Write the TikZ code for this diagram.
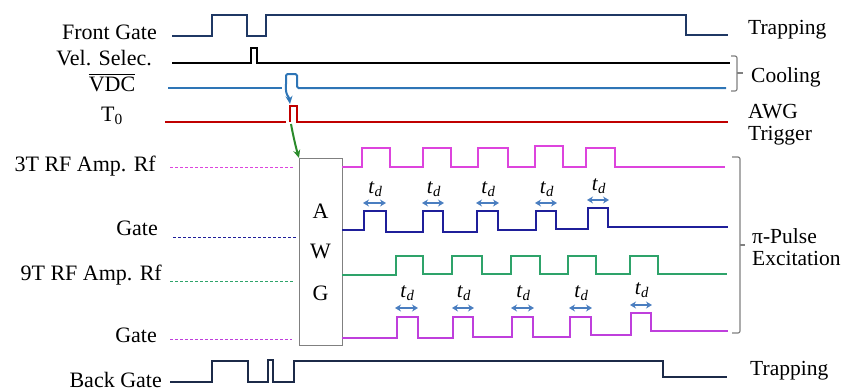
\documentclass[tikz,border=0pt]{standalone}
\usepackage{fontspec}
\setmainfont{Liberation Serif}
\usetikzlibrary{arrows.meta}
\definecolor{cfront}{HTML}{1F3864}
\definecolor{cvdc}{HTML}{2E75B6}
\definecolor{ct0}{HTML}{C00000}
\definecolor{cmag}{HTML}{DD44DD}
\definecolor{cgate}{HTML}{1F1F9A}
\definecolor{cgreen}{HTML}{2EA36A}
\definecolor{cpurp}{HTML}{BF3FDC}
\definecolor{cback}{HTML}{1C2A48}
\definecolor{ctd}{HTML}{4A7EC0}
\definecolor{carrg}{HTML}{2A8A2A}
\definecolor{cbrk}{HTML}{808080}
\begin{document}
\begin{tikzpicture}[x=1pt,y=-1pt,
  lbl/.style={font=\fontsize{22}{24}\selectfont, inner sep=0pt},
  rlbl/.style={font=\fontsize{21.5}{24}\selectfont, inner sep=0pt, anchor=base west},
  wave/.style={line width=2pt},
  guide/.style={line width=1pt, dash pattern=on 3pt off 2pt},
  tdarrow/.style={ctd, line width=2pt, {Stealth[length=6pt,width=7pt]}-{Stealth[length=6pt,width=7pt]}},
  tdlbl/.style={font=\fontsize{21}{24}\selectfont, inner sep=0pt, anchor=base},
  brk/.style={cbrk, line width=1.2pt, rounded corners=2pt}]
\useasboundingbox (0,0) rectangle (844,391);

% left labels
\node[lbl, anchor=base east] (lfg) at (157,39) {Front Gate};
\node[lbl, anchor=base east] (lvs) at (152,65) {Vel. Selec.};
\node[lbl, anchor=base] (lvdc) at (112,91) {VDC};
\draw[line width=0.6pt] ([yshift=2pt]lvdc.north west) -- ([yshift=2pt]lvdc.north east);
\node[lbl, anchor=base] (lt0) at (112,121) {T\textsubscript{0}};
\node[lbl, anchor=base east] (l3t) at (156,171) {3T RF Amp. Rf};
\node[lbl, anchor=base east] (lg1) at (158,235) {Gate};
\node[lbl, anchor=base east] (l9t) at (162,280) {9T RF Amp. Rf};
\node[lbl, anchor=base east] (lg2) at (157,342) {Gate};
\node[lbl, anchor=base east] (lbg) at (162,387) {Back Gate};

% right labels
\node[rlbl] (rtr1) at (748,34) {Trapping};
\node[rlbl] (rcool) at (751,82) {Cooling};
\node[rlbl] (rawg) at (748,118) {AWG};
\node[rlbl] (rtrig) at (748,140) {Trigger};
\node[rlbl] (rpi) at (752,243) {π-Pulse};
\node[rlbl] (rexc) at (752,265) {Excitation};
\node[rlbl] (rtr2) at (750,375) {Trapping};

% brackets
\draw[brk] (731,56) -- (737,56) -- (737,91) -- (731,91);
\draw[cbrk, line width=1.2pt] (737,73) -- (743,73);
\draw[brk] (732,157) -- (740,157) -- (740,333) -- (732,333);
\draw[cbrk, line width=1.2pt] (740,245) -- (745,245);

% dashed guides
\draw[guide, cmag] (170,167) -- (293,167);
\draw[guide, cgate] (173,237) -- (297,237);
\draw[guide, cgreen] (170,281) -- (293,281);
\draw[guide, cpurp] (170,339) -- (292,339);

% AWG box
\node[draw=cbrk, fill=white, line width=0.8pt, minimum width=43pt, minimum height=187pt, inner sep=0pt, anchor=north west] (awg) at (299,158) {};
\node[lbl, anchor=base] (awgA) at (320.5,218) {A};
\node[lbl, anchor=base] (awgW) at (320.5,258) {W};
\node[lbl, anchor=base] (awgG) at (320.5,300) {G};

% Front gate
\draw[wave, cfront] (172,36) -- (212,36) -- (212,15) -- (247,15) -- (247,36) -- (266,36) -- (266,15) -- (686,15) -- (686,35) -- (728,35);
% Vel. Selec.
\draw[wave, black] (172,63) -- (251,63) -- (251,48) -- (257,48) -- (257,63) -- (730,63);
% VDC
\draw[wave, cvdc] (168,88) -- (282,88);
\draw[wave, cvdc, rounded corners=1.5pt] (286,84) -- (286,74) -- (297,74) -- (297,88) -- (726,88);
% T0
\draw[wave, ct0] (165,122) -- (286,122);
\draw[wave, ct0] (290,122) -- (290,106) -- (297,106) -- (297,122) -- (728,122);

% trigger arrows
\coordinate (vdcp) at (286,84);
\coordinate (t0p) at (290,104);
\coordinate (t0b) at (291,124);
\draw[cvdc, line width=2pt, -{Stealth[length=8pt,width=7pt]}] (vdcp) .. controls (285,96) and (289,96) .. (t0p);
\draw[carrg, line width=2pt, -{Stealth[length=8pt,width=7pt]}] (t0b) .. controls (293,135) and (296,148) .. (awg.north west);

% 3T RF Amp
\draw[wave, cmag] (342,167) -- (362,167) -- (362,148) -- (390,148) -- (390,167) -- (423,167) -- (423,148) -- (451,148) -- (451,167) -- (478,167) -- (478,148) -- (508,148) -- (508,167) -- (535,167) -- (535,146) -- (563,146) -- (563,167) -- (586,167) -- (586,148) -- (615,148) -- (615,167) -- (725,167);
% Gate 1
\draw[wave, cgate] (342,230) -- (364,230) -- (364,211) -- (386,211) -- (386,232) -- (423,232) -- (423,211) -- (443,211) -- (443,232) -- (477,232) -- (477,211) -- (498,211) -- (498,230) -- (536,230) -- (536,211) -- (556,211) -- (556,229) -- (588,229) -- (588,208) -- (608,208) -- (608,227) -- (728,227);
% 9T RF Amp
\draw[wave, cgreen] (342,275) -- (396,275) -- (396,256) -- (423,256) -- (423,274) -- (452,274) -- (452,256) -- (482,256) -- (482,274) -- (511,274) -- (511,256) -- (540,256) -- (540,274) -- (568,274) -- (568,256) -- (596,256) -- (596,274) -- (630,274) -- (630,256) -- (658,256) -- (658,274) -- (727,274);
% Gate 2
\draw[wave, cpurp] (342,338) -- (397,338) -- (397,317) -- (418,317) -- (418,338) -- (453,338) -- (453,317) -- (473,317) -- (473,337) -- (512,337) -- (512,317) -- (533,317) -- (533,337) -- (570,337) -- (570,317) -- (591,317) -- (591,335) -- (631,335) -- (631,313) -- (651,313) -- (651,331) -- (728,331);
% Back gate
\draw[wave, cback] (170,382) -- (212,382) -- (212,361) -- (248,361) -- (248,382) -- (268,382) -- (268,360) -- (273,360) -- (273,382) -- (294,382) -- (294,361) -- (663,361) -- (663,377) -- (727,377);

% t_d markers, gate 1
\foreach \i/\a/\b/\y in {1/363/386/203, 2/422/444/203, 3/476/499/203, 4/535/557/203, 5/587/609/200}{
  \coordinate (ga\i) at (\a,\y);
  \coordinate (gb\i) at (\b,\y);
  \draw[tdarrow] (ga\i) -- (gb\i);
  \node[tdlbl] (tdA\i) at ({(\a+\b)/2+1},{\y-10}) {\textit{t}\textsubscript{\textit{d}}};
}
% t_d markers, gate 2
\foreach \i/\a/\b/\y in {1/395/418/308, 2/452/474/308, 3/511/534/308, 4/569/592/308, 5/630/652/305}{
  \coordinate (ha\i) at (\a,\y);
  \coordinate (hb\i) at (\b,\y);
  \draw[tdarrow] (ha\i) -- (hb\i);
  \node[tdlbl] (tdB\i) at ({(\a+\b)/2+1},{\y-11}) {\textit{t}\textsubscript{\textit{d}}};
}
\end{tikzpicture}
\end{document}
